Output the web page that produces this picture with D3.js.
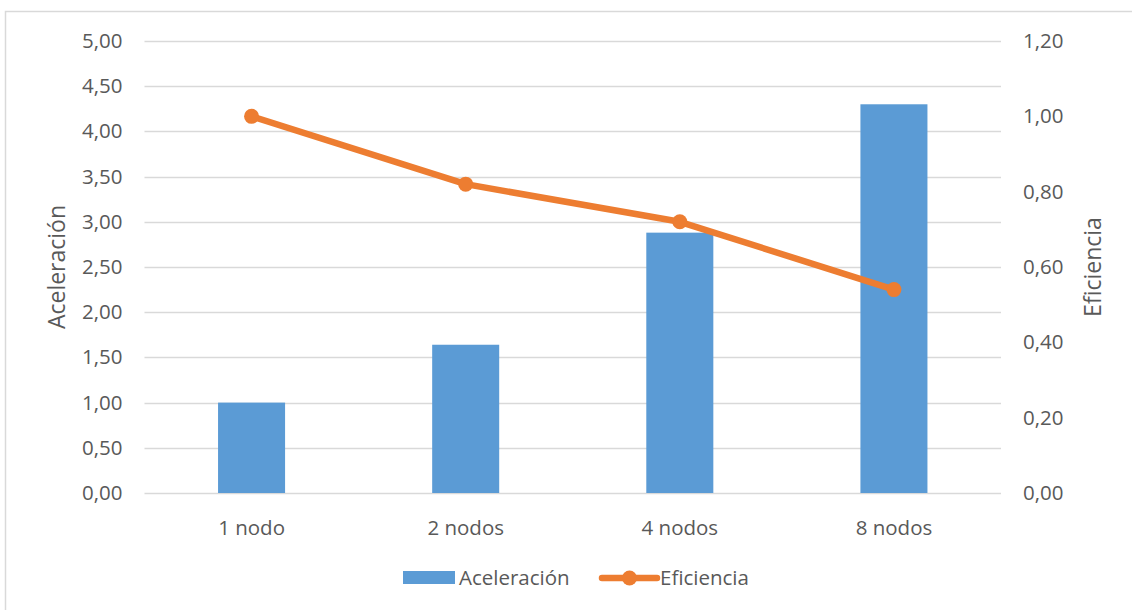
<!DOCTYPE html>
<html>
<head>
<meta charset="utf-8">
<script src="https://cdn.jsdelivr.net/npm/d3@7/dist/d3.min.js"></script>
<style>
  html, body { margin: 0; padding: 0; background: #fff; }
  svg { display: block; }
  text { font-family: "Open Sans", "Noto Sans", sans-serif; fill: #595959; }
</style>
</head>
<body>
<svg id="chart" width="1132" height="610"></svg>
<script>
// Speed-up and efficiency per node count
const categories = ["1 nodo", "2 nodos", "4 nodos", "8 nodos"];
const aceleracion = [1.00, 1.64, 2.88, 4.30];
const eficiencia = [1.00, 0.82, 0.72, 0.54];

const leftTicks = [0, 0.5, 1, 1.5, 2, 2.5, 3, 3.5, 4, 4.5, 5];
const rightTicks = [0, 0.2, 0.4, 0.6, 0.8, 1.0, 1.2];

const W = 1132, H = 610;
const plot = { left: 144.5, right: 1001, top: 41, bottom: 493 };

const colors = { bar: "#5b9bd5", line: "#ed7d31", grid: "#d9d9d9", text: "#595959" };
const fontSize = 20.5;
const titleSize = 23;

const es = d3.formatLocale({ decimal: ",", thousands: ".", grouping: [3], currency: ["", " €"] });
const fmt = es.format(".2f");

const svg = d3.select("#chart");

// Outer chart frame
svg.append("rect")
  .attr("x", 5.5).attr("y", 11.5)
  .attr("width", W + 20).attr("height", H + 20)
  .attr("fill", "#fff")
  .attr("stroke", colors.grid).attr("stroke-width", 1.5);

const x = d3.scaleBand().domain(categories).range([plot.left, plot.right]).padding(0);
const yL = d3.scaleLinear().domain([0, 5]).range([plot.bottom, plot.top]);
const yR = d3.scaleLinear().domain([0, 1.2]).range([plot.bottom, plot.top]);
const barW = x.bandwidth() * 0.313;

// Horizontal gridlines
svg.append("g")
  .selectAll("line")
  .data(leftTicks)
  .join("line")
  .attr("x1", plot.left).attr("x2", plot.right)
  .attr("y1", d => Math.round(yL(d)) + 0.5)
  .attr("y2", d => Math.round(yL(d)) + 0.5)
  .attr("stroke", colors.grid).attr("stroke-width", 1.5);

// Left axis
const axL = svg.append("g")
  .attr("transform", `translate(${plot.left - 22},0)`)
  .call(d3.axisLeft(yL).tickValues(leftTicks).tickFormat(fmt).tickSize(0).tickPadding(0));
axL.select(".domain").remove();

// Right axis
const axR = svg.append("g")
  .attr("transform", `translate(${plot.right + 22},0)`)
  .call(d3.axisRight(yR).tickValues(rightTicks).tickFormat(fmt).tickSize(0).tickPadding(0));
axR.select(".domain").remove();

// Category axis
const axB = svg.append("g")
  .attr("transform", `translate(0,${plot.bottom + 20})`)
  .call(d3.axisBottom(x).tickSize(0).tickPadding(0));
axB.select(".domain").remove();

svg.selectAll(".tick text")
  .style("font-family", '"Open Sans", "Noto Sans", sans-serif')
  .style("font-size", fontSize + "px")
  .attr("fill", colors.text);
axB.selectAll(".tick text").attr("dy", "1.05em");

// Bars
svg.append("g")
  .selectAll("rect")
  .data(categories)
  .join("rect")
  .attr("x", (d, i) => x(d) + (x.bandwidth() - barW) / 2)
  .attr("y", (d, i) => yL(aceleracion[i]))
  .attr("width", barW)
  .attr("height", (d, i) => plot.bottom - yL(aceleracion[i]))
  .attr("fill", colors.bar);

// Efficiency line with markers
const pts = categories.map((c, i) => [x(c) + x.bandwidth() / 2, yR(eficiencia[i])]);
svg.append("path")
  .attr("d", d3.line()(pts))
  .attr("fill", "none")
  .attr("stroke", colors.line)
  .attr("stroke-width", 6.5)
  .attr("stroke-linecap", "round")
  .attr("stroke-linejoin", "round");
svg.append("g")
  .selectAll("circle")
  .data(pts)
  .join("circle")
  .attr("cx", d => d[0]).attr("cy", d => d[1])
  .attr("r", 7.5)
  .attr("fill", colors.line);

// Axis titles
svg.append("text")
  .attr("transform", `translate(${65},${(plot.top + plot.bottom) / 2}) rotate(-90)`)
  .attr("text-anchor", "middle")
  .style("font-size", titleSize + "px")
  .text("Aceleración");
svg.append("text")
  .attr("transform", `translate(${1101},${(plot.top + plot.bottom) / 2}) rotate(-90)`)
  .attr("text-anchor", "middle")
  .style("font-size", titleSize + "px")
  .text("Eficiencia");

// Legend
const lg = svg.append("g");
lg.append("rect")
  .attr("x", 403).attr("y", 571).attr("width", 52).attr("height", 13)
  .attr("fill", colors.bar);
lg.append("text")
  .attr("x", 459).attr("y", 578).attr("dy", "0.35em")
  .style("font-size", fontSize + "px")
  .text("Aceleración");
lg.append("line")
  .attr("x1", 602).attr("x2", 657).attr("y1", 578).attr("y2", 578)
  .attr("stroke", colors.line).attr("stroke-width", 6.5).attr("stroke-linecap", "round");
lg.append("circle")
  .attr("cx", 629.5).attr("cy", 578).attr("r", 7.5)
  .attr("fill", colors.line);
lg.append("text")
  .attr("x", 660).attr("y", 578).attr("dy", "0.35em")
  .style("font-size", fontSize + "px")
  .text("Eficiencia");
</script>
</body>
</html>
